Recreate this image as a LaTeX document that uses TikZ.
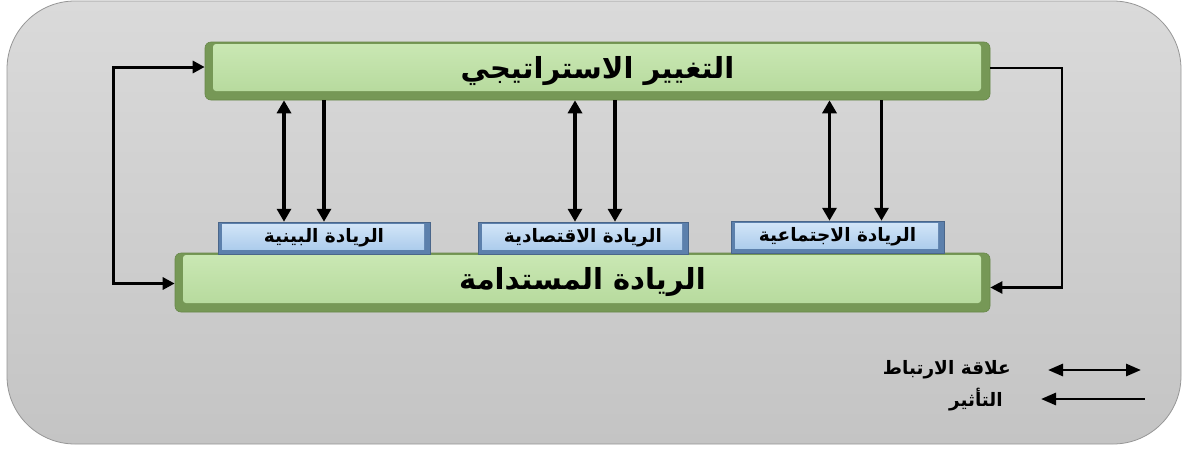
\documentclass[tikz,border=0pt]{standalone}
\usepackage{fontspec}
\newfontfamily\arabicfont[Script=Arabic]{DejaVu Sans}
\TeXXeTstate=1
\usetikzlibrary{arrows.meta,calc}
\definecolor{bgtop}{RGB}{218,218,218}
\definecolor{bgbot}{RGB}{196,196,196}
\definecolor{bgline}{RGB}{150,150,150}
\definecolor{gdark}{RGB}{118,152,86}
\definecolor{gborder}{RGB}{104,136,74}
\definecolor{glight}{RGB}{202,232,180}
\definecolor{gmid}{RGB}{180,216,154}
\definecolor{bdark}{RGB}{92,128,172}
\definecolor{blight}{RGB}{212,230,248}
\definecolor{bmid}{RGB}{166,200,234}
\begin{document}
\begin{tikzpicture}[x=1pt,y=-1pt,
  greenbar/.style={rectangle, rounded corners=6pt, fill=gdark, draw=gborder, line width=0.6pt, inner sep=0pt,
    path picture={\fill[top color=glight, bottom color=gmid, rounded corners=3pt]
      ($(path picture bounding box.north west)+(8,2)$) rectangle ($(path picture bounding box.south east)+(-9,-9)$);},
    font=\arabicfont\bfseries\fontsize{29}{32}\selectfont},
  bluebox/.style={rectangle, fill=bdark, draw=bdark!80!black, line width=0.5pt, inner sep=0pt,
    minimum height=32pt,
    path picture={\fill[top color=blight, bottom color=bmid]
      ($(path picture bounding box.north west)+(4,2)$) rectangle ($(path picture bounding box.south east)+(-6,-5)$);},
    font=\arabicfont\bfseries\fontsize{18.5}{20}\selectfont},
  legendtext/.style={font=\arabicfont\bfseries\fontsize{18.5}{20}\selectfont, inner sep=0pt},
  arr/.style={line width=3.4pt, -{Triangle[length=13pt,width=14pt]}},
  biarr/.style={line width=3.4pt, {Triangle[length=13pt,width=14pt]}-{Triangle[length=13pt,width=14pt]}},
  loopbi/.style={line width=3pt, {Triangle[length=12pt,width=12pt]}-{Triangle[length=12pt,width=12pt]}},
  looparr/.style={line width=2.3pt, -{Triangle[length=12pt,width=12pt]}},
  legbi/.style={line width=2.8pt, {Triangle[length=15pt,width=12pt]}-{Triangle[length=15pt,width=12pt]}},
  legarr/.style={line width=2.8pt, {Triangle[length=15pt,width=12pt]}-}
]
\useasboundingbox (0,0) rectangle (1184,448);
% background
\path[top color=bgtop, bottom color=bgbot, draw=bgline, line width=0.8pt, rounded corners=68pt]
  (7,1) rectangle (1181,444);

% bars
\node[greenbar, minimum width=785pt, minimum height=58pt] (top) at (597.5,71)
  {\beginR التغيير الاستراتيجي\endR};
\node[greenbar, minimum width=815pt, minimum height=59pt] (bottom) at (582.5,282.5)
  {\beginR الريادة المستدامة\endR};

% blue boxes
\node[bluebox, minimum width=212pt] (b1) at (324,238) {\beginR الريادة البينية\endR};
\node[bluebox, minimum width=210pt] (b2) at (583,238) {\beginR الريادة الاقتصادية\endR};
\node[bluebox, minimum width=213pt] (b3) at (837.5,237) {\beginR الريادة الاجتماعية\endR};

% vertical arrows
\draw[biarr] ($(b1.north)+(-40,0)$) -- ($(b1.north |- top.south)+(-40,0)$);
\draw[arr] ($(b1.north |- top.south)+(0,0)$) -- (b1.north);
\draw[biarr] ($(b2.north)+(-8,0)$) -- ($(b2.north |- top.south)+(-8,0)$);
\draw[arr] ($(b2.north |- top.south)+(32,0)$) -- ($(b2.north)+(32,0)$);
\draw[biarr] ($(b3.north)+(-8,0)$) -- ($(b3.north |- top.south)+(-8,0)$);
\draw[arr] ($(b3.north |- top.south)+(44,0)$) -- ($(b3.north)+(44,0)$);

% side loops
\coordinate (lx) at (113,180);
\coordinate (rx) at (1062,180);
\draw[loopbi] ($(top.west)+(0,-4)$) -| (lx) |- ($(bottom.west)+(0,1)$);
\draw[looparr] ($(top.east)+(0,-3)$) -| (rx) |- ($(bottom.east)+(0,5)$);

% legend
\coordinate (l1a) at (1048,370);
\coordinate (l1b) at (1141,370);
\coordinate (l2a) at (1041,399);
\coordinate (l2b) at (1145,399);
\draw[legbi] (l1a) -- (l1b);
\draw[legarr] (l2a) -- (l2b);
\node[legendtext, anchor=east] (t1) at (1011,370) {\beginR علاقة الارتباط\endR};
\node[legendtext, anchor=east] (t2) at (1003,400) {\beginR التأثير\endR};
\end{tikzpicture}
\end{document}
